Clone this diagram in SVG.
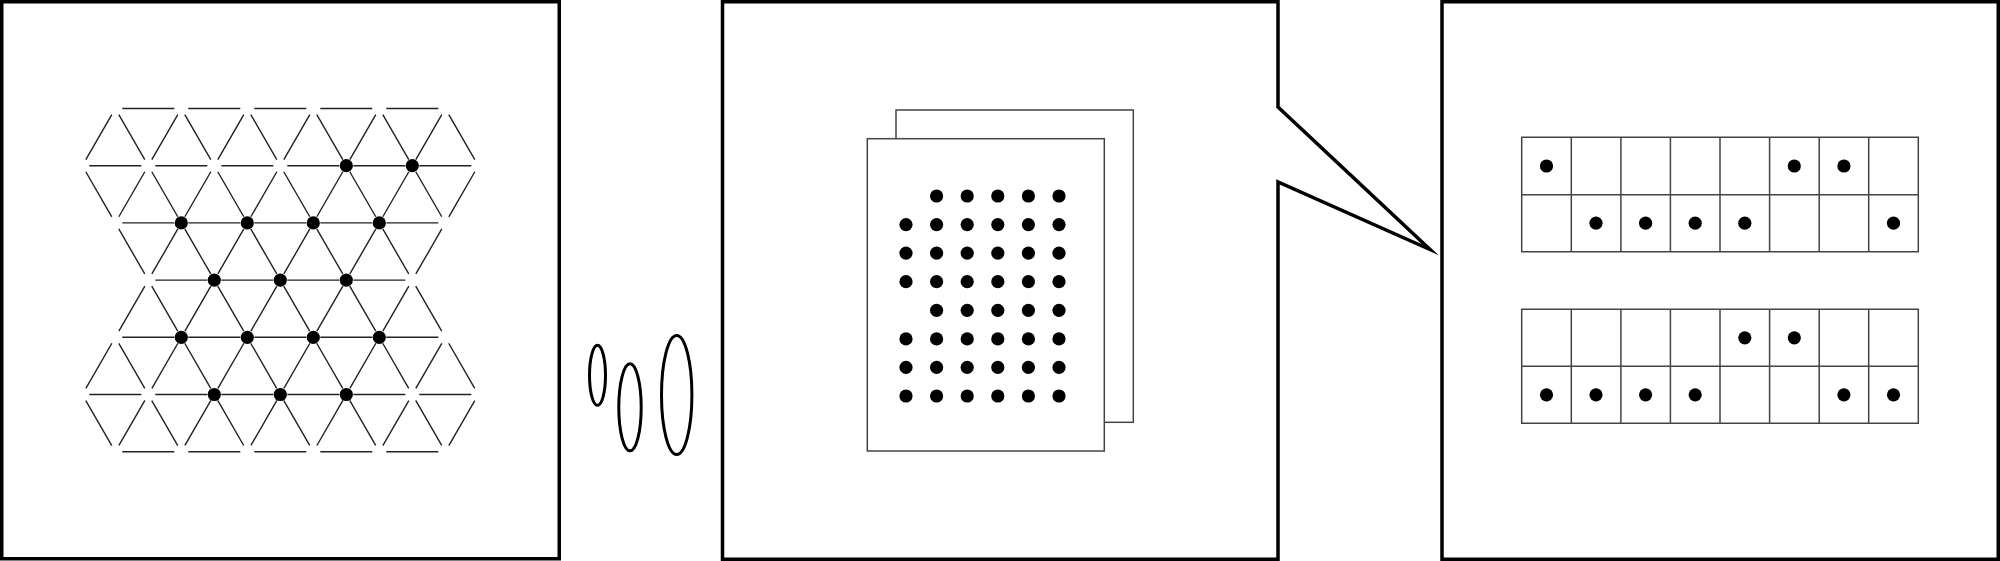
<svg xmlns="http://www.w3.org/2000/svg" width="2000" height="561" viewBox="0 0 2000 561">
<style>
.frame{fill:#fff;stroke:#000;stroke-width:3.5;stroke-linejoin:miter;stroke-miterlimit:20}
.lat{fill:none;stroke:#222;stroke-width:1.4;stroke-dasharray:0 7 52 7}
.dot{fill:#000}
.page{fill:#fff;stroke:#444;stroke-width:1.5}
.cell{fill:#fff;stroke:#444;stroke-width:1.5}
.zoomring{fill:none;stroke:#000;stroke-width:3}
</style>
<rect width="2000" height="561" fill="#fff"/>
<g id="panel-lattice">
<rect class="frame" x="1.75" y="1.75" width="557.5" height="557"/>
<path class="lat" d="M115.3 108.5H445.3M82.3 165.7H478.3M115.3 222.9H445.3M148.3 280.1H412.3M115.3 337.3H445.3M82.3 394.5H478.3M115.3 451.7H445.3"/>
<path class="lat" d="M82.3 394.5L115.3 451.7M115.3 337.3L181.3 451.7M82.3 165.7L247.3 451.7M115.3 108.5L313.3 451.7M181.3 108.5L379.3 451.7M247.3 108.5L445.3 451.7M313.3 108.5L478.3 394.5M379.3 108.5L445.3 222.9M445.3 108.5L478.3 165.7"/>
<path class="lat" d="M478.3 394.5L445.3 451.7M445.3 337.3L379.3 451.7M478.3 165.7L313.3 451.7M445.3 108.5L247.3 451.7M379.3 108.5L181.3 451.7M313.3 108.5L115.3 451.7M247.3 108.5L82.3 394.5M181.3 108.5L115.3 222.9M115.3 108.5L82.3 165.7"/>
<g class="dot">
<circle cx="346.3" cy="165.7" r="6.6"/><circle cx="412.3" cy="165.7" r="6.6"/>
<circle cx="181.3" cy="222.9" r="6.6"/><circle cx="247.3" cy="222.9" r="6.6"/><circle cx="313.3" cy="222.9" r="6.6"/><circle cx="379.3" cy="222.9" r="6.6"/>
<circle cx="214.3" cy="280.1" r="6.6"/><circle cx="280.3" cy="280.1" r="6.6"/><circle cx="346.3" cy="280.1" r="6.6"/>
<circle cx="181.3" cy="337.3" r="6.6"/><circle cx="247.3" cy="337.3" r="6.6"/><circle cx="313.3" cy="337.3" r="6.6"/><circle cx="379.3" cy="337.3" r="6.6"/>
<circle cx="214.3" cy="394.5" r="6.6"/><circle cx="280.3" cy="394.5" r="6.6"/><circle cx="346.3" cy="394.5" r="6.6"/>
</g>
</g>
<g id="connectors">
<ellipse class="zoomring" cx="597.5" cy="375.3" rx="8" ry="30"/>
<ellipse class="zoomring" cx="630" cy="407.3" rx="11.2" ry="43.5"/>
<ellipse class="zoomring" cx="676.7" cy="395" rx="15.2" ry="59.5"/>
</g>
<g id="panel-pages">
<path class="frame" d="M722.5 1.75H1278V107L1430 249.5L1278 182V559.25H722.5Z"/>
<rect class="page" x="896" y="110" width="237.3" height="312.3"/>
<rect class="page" x="867.3" y="138.7" width="237" height="312.3"/>
<g class="dot">
<circle cx="936.6" cy="196" r="6.6"/><circle cx="967.2" cy="196" r="6.6"/><circle cx="997.8" cy="196" r="6.6"/><circle cx="1028.4" cy="196" r="6.6"/><circle cx="1059" cy="196" r="6.6"/>
<circle cx="906" cy="224.6" r="6.6"/><circle cx="936.6" cy="224.6" r="6.6"/><circle cx="967.2" cy="224.6" r="6.6"/><circle cx="997.8" cy="224.6" r="6.6"/><circle cx="1028.4" cy="224.6" r="6.6"/><circle cx="1059" cy="224.6" r="6.6"/>
<circle cx="906" cy="253.1" r="6.6"/><circle cx="936.6" cy="253.1" r="6.6"/><circle cx="967.2" cy="253.1" r="6.6"/><circle cx="997.8" cy="253.1" r="6.6"/><circle cx="1028.4" cy="253.1" r="6.6"/><circle cx="1059" cy="253.1" r="6.6"/>
<circle cx="906" cy="281.7" r="6.6"/><circle cx="936.6" cy="281.7" r="6.6"/><circle cx="967.2" cy="281.7" r="6.6"/><circle cx="997.8" cy="281.7" r="6.6"/><circle cx="1028.4" cy="281.7" r="6.6"/><circle cx="1059" cy="281.7" r="6.6"/>
<circle cx="936.6" cy="310.3" r="6.6"/><circle cx="967.2" cy="310.3" r="6.6"/><circle cx="997.8" cy="310.3" r="6.6"/><circle cx="1028.4" cy="310.3" r="6.6"/><circle cx="1059" cy="310.3" r="6.6"/>
<circle cx="906" cy="338.9" r="6.6"/><circle cx="936.6" cy="338.9" r="6.6"/><circle cx="967.2" cy="338.9" r="6.6"/><circle cx="997.8" cy="338.9" r="6.6"/><circle cx="1028.4" cy="338.9" r="6.6"/><circle cx="1059" cy="338.9" r="6.6"/>
<circle cx="906" cy="367.4" r="6.6"/><circle cx="936.6" cy="367.4" r="6.6"/><circle cx="967.2" cy="367.4" r="6.6"/><circle cx="997.8" cy="367.4" r="6.6"/><circle cx="1028.4" cy="367.4" r="6.6"/><circle cx="1059" cy="367.4" r="6.6"/>
<circle cx="906" cy="396" r="6.6"/><circle cx="936.6" cy="396" r="6.6"/><circle cx="967.2" cy="396" r="6.6"/><circle cx="997.8" cy="396" r="6.6"/><circle cx="1028.4" cy="396" r="6.6"/><circle cx="1059" cy="396" r="6.6"/>
</g>
</g>
<g id="panel-grids">
<rect class="frame" x="1442" y="1.75" width="556.25" height="557.5"/>
<g id="grid-top">
<path class="cell" d="M1521.7 137.3H1918.3V251.7H1521.7ZM1521.7 194.7H1918.3M1571.3 137.3V251.7M1620.9 137.3V251.7M1670.4 137.3V251.7M1720 137.3V251.7M1769.6 137.3V251.7M1819.2 137.3V251.7M1868.7 137.3V251.7"/>
<g class="dot">
<circle cx="1546.5" cy="166" r="6.6"/><circle cx="1794.3" cy="166" r="6.6"/><circle cx="1843.9" cy="166" r="6.6"/>
<circle cx="1596" cy="223.2" r="6.6"/><circle cx="1645.6" cy="223.2" r="6.6"/><circle cx="1695.2" cy="223.2" r="6.6"/><circle cx="1744.8" cy="223.2" r="6.6"/><circle cx="1893.5" cy="223.2" r="6.6"/>
</g>
</g>
<g id="grid-bottom">
<path class="cell" d="M1521.7 309.3H1918.3V423.3H1521.7ZM1521.7 366.3H1918.3M1571.3 309.3V423.3M1620.9 309.3V423.3M1670.4 309.3V423.3M1720 309.3V423.3M1769.6 309.3V423.3M1819.2 309.3V423.3M1868.7 309.3V423.3"/>
<g class="dot">
<circle cx="1744.8" cy="337.8" r="6.6"/><circle cx="1794.3" cy="337.8" r="6.6"/>
<circle cx="1546.5" cy="394.8" r="6.6"/><circle cx="1596" cy="394.8" r="6.6"/><circle cx="1645.6" cy="394.8" r="6.6"/><circle cx="1695.2" cy="394.8" r="6.6"/><circle cx="1843.9" cy="394.8" r="6.6"/><circle cx="1893.5" cy="394.8" r="6.6"/>
</g>
</g>
</g>
</svg>
